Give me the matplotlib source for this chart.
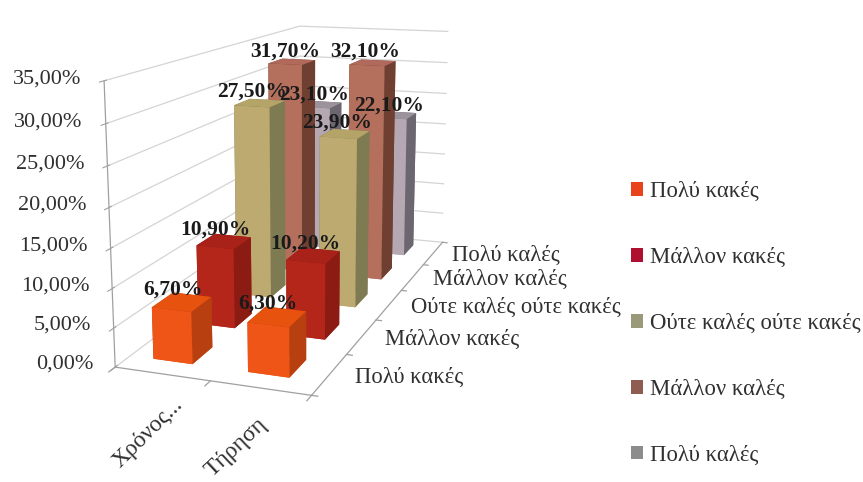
import matplotlib
matplotlib.use("Agg")
import matplotlib.pyplot as plt
from matplotlib.patches import Patch

plt.rcParams['font.family'] = ['Liberation Serif', 'DejaVu Serif']

categories = ['Χρόνος...', 'Τήρηση']
series = ['Πολύ κακές', 'Μάλλον κακές', 'Ούτε καλές ούτε κακές', 'Μάλλον καλές', 'Πολύ καλές']
values = [
    [6.7, 6.3],
    [10.9, 10.2],
    [27.5, 23.9],
    [31.7, 32.1],
    [23.1, 22.1],
]
z_ticks = [0, 5, 10, 15, 20, 25, 30, 35]

# front, side, top colour of each series
front_colors = ['#EE5517', '#B4261A', '#BDAA70', '#B4705C', '#B5A8B2']
side_colors = ['#B83F10', '#8C1B14', '#7E7A52', '#6F4032', '#6B6670']
top_colors = ['#E8520F', '#A8221A', '#B5A468', '#B0695A', '#9C929C']
legend_colors = ['#E8431A', '#B01030', '#9A9A7A', '#8E5C50', '#8C8C8C']
text_color = '#303030'
line_color = '#a0a0a0'


def pct(v):
    return '{:.2f}%'.format(v).replace('.', ',')


fig = plt.figure(figsize=(8.63, 4.82), dpi=100)
ax = fig.add_axes([0.066, 0.1205, 0.5585, 1.0], projection='3d', computed_zorder=False)
ax.view_init(elev=13, azim=-70.5)
ax.set_proj_type('persp', focal_length=0.45)
ax.set_box_aspect((2.09, 5.5, 2.9), zoom=1.135)

ax.set_xlim(0, 2)
ax.set_ylim(0, 5)
ax.set_zlim(0, 35)

bar_w = 0.42
bar_d = 0.45
# back to front so the near bars cover the far ones
for s in range(len(series) - 1, -1, -1):
    for c in range(len(categories)):
        x0 = c + 0.25
        y0 = s + 0.3
        # faces: bottom, top, front, back, left, right
        face = [top_colors[s], top_colors[s], front_colors[s], side_colors[s], side_colors[s], side_colors[s]]
        ax.bar3d(x0, y0, 0, bar_w, bar_d, values[s][c], color=face, shade=False,
                 linewidth=0, zorder=10 + (5 - s) * 2 + c)

for s in range(len(series)):
    for c in range(len(categories)):
        ax.text(c + 0.38, s + 0.5, values[s][c] + 1.6, pct(values[s][c]), ha='center', va='center',
                fontsize=15.5, fontweight='bold', color='#1a1a1a', zorder=40)

for axis in (ax.xaxis, ax.yaxis, ax.zaxis):
    axis.set_pane_color((1, 1, 1, 1))
    axis.pane.set_edgecolor('none')
    axis.line.set_color(line_color)
    axis.line.set_linewidth(0.9)
ax.zaxis._axinfo['grid']['color'] = '#d4d4d4'
ax.zaxis._axinfo['grid']['linewidth'] = 0.9

# tick marks sit between the categories, labels are placed by hand below
ax.set_xticks([])
ax.set_yticks([])
for i in range(len(categories) + 1):
    ax.plot([i, i], [0, -0.12], [0, 0], color=line_color, lw=0.9, zorder=2)
for j in range(len(series) + 1):
    ax.plot([2, 2.06], [j, j], [0, 0], color=line_color, lw=0.9, zorder=2)

ax.set_zticks(z_ticks)
ax.set_zticklabels(['' for t in z_ticks])
ax.zaxis.set_ticks_position('lower')
ax.tick_params(axis='z', color=line_color)

# Text3D takes its angle from zdir, this one comes out at about 45 degrees
label_x = [0.72, 1.57]
for c, lab in enumerate(categories):
    ax.text(label_x[c], -0.7, -3, lab, zdir=(1, 0, 13.7), ha='center', va='center', fontsize=17, color=text_color)
for s, lab in enumerate(series):
    ax.text(2.25, s + 0.5, 0, lab, ha='left', va='center', fontsize=16.3, color=text_color)
for t in z_ticks:
    ax.text(-0.24, 0, t, pct(t), ha='right', va='center', fontsize=16, color=text_color)

handles = [Patch(facecolor=col, label=lab) for col, lab in zip(legend_colors, series)]
fig.legend(handles=handles, loc='center left', bbox_to_anchor=(0.731, 0.329), frameon=False,
           fontsize=16.4, labelspacing=1.97, handlelength=0.55, handleheight=0.55, handletextpad=0.3,
           labelcolor=text_color, borderaxespad=0, borderpad=0)

fig.savefig('out.png', dpi=100)
